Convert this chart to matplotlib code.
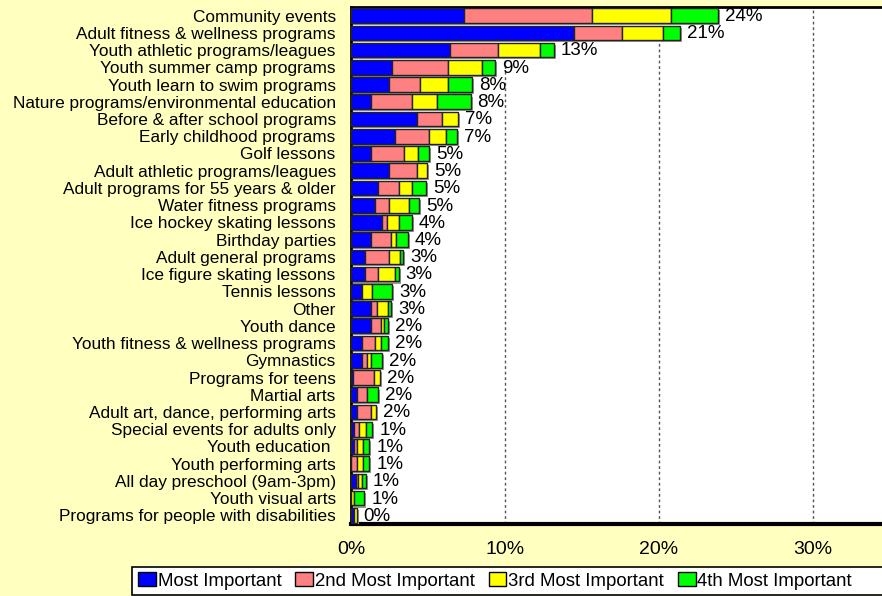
import matplotlib
matplotlib.use("Agg")
import matplotlib.pyplot as plt
import matplotlib.patheffects as pe
from matplotlib.patches import Rectangle

plt.rcParams['font.family'] = ['Liberation Sans', 'DejaVu Sans']

# Data (top to bottom)
categories = [
    "Community events", "Adult fitness & wellness programs",
    "Youth athletic programs/leagues", "Youth summer camp programs",
    "Youth learn to swim programs", "Nature programs/environmental education",
    "Before & after school programs", "Early childhood programs",
    "Golf lessons", "Adult athletic programs/leagues",
    "Adult programs for 55 years & older", "Water fitness programs",
    "Ice hockey skating lessons", "Birthday parties",
    "Adult general programs", "Ice figure skating lessons",
    "Tennis lessons", "Other", "Youth dance",
    "Youth fitness & wellness programs", "Gymnastics",
    "Programs for teens", "Martial arts",
    "Adult art, dance, performing arts", "Special events for adults only",
    "Youth education ", "Youth performing arts",
    "All day preschool (9am-3pm)", "Youth visual arts",
    "Programs for people with disabilities",
]
most = [7.36, 14.48, 6.45, 2.66, 2.47, 1.28, 4.27, 2.88, 1.28, 2.49,
        1.77, 1.56, 1.99, 1.28, 0.91, 0.91, 0.71, 1.28, 1.28, 0.69,
        0.69, 0.15, 0.37, 0.37, 0.19, 0.19, 0.0, 0.30, 0.0, 0.19]
second = [8.31, 3.10, 3.10, 3.62, 1.99, 2.66, 1.62, 2.21, 2.18, 1.78,
          1.33, 0.91, 0.37, 1.30, 1.58, 0.86, 0.0, 0.39, 0.69, 0.85,
          0.37, 1.34, 0.69, 0.91, 0.35, 0.18, 0.37, 0.17, 0.0, 0.0]
third = [5.11, 2.70, 2.72, 2.21, 1.82, 1.62, 1.08, 1.08, 0.91, 0.69,
         0.86, 1.28, 0.74, 0.36, 0.69, 1.11, 0.67, 0.71, 0.19, 0.43,
         0.22, 0.39, 0.0, 0.34, 0.41, 0.39, 0.39, 0.22, 0.19, 0.18]
fourth = [3.07, 1.08, 0.91, 0.88, 1.60, 2.21, 0.0, 0.69, 0.69, 0.0,
          0.91, 0.69, 0.86, 0.74, 0.22, 0.22, 1.30, 0.22, 0.22, 0.41,
          0.71, 0.0, 0.69, 0.0, 0.43, 0.43, 0.43, 0.28, 0.67, 0.0]
pct_labels = ["24%", "21%", "13%", "9%", "8%", "8%", "7%", "7%", "5%", "5%",
              "5%", "5%", "4%", "4%", "3%", "3%", "3%", "3%", "2%", "2%",
              "2%", "2%", "2%", "2%", "1%", "1%", "1%", "1%", "1%", "0%"]
series_names = ["Most Important", "2nd Most Important",
                "3rd Most Important", "4th Most Important"]
colors = ["#0000FF", "#FF8080", "#FFFF00", "#00FF00"]

fig = plt.figure(figsize=(8.82, 5.96), dpi=100)
fig.patch.set_facecolor("#FFFFC0")
ax = fig.add_axes([351 / 882, 1 - 524 / 596, (890 - 351) / 882, 517 / 596])
ax.set_facecolor("white")

n = len(categories)
y = list(range(n))
shadow = [pe.SimplePatchShadow(offset=(1.5, -1.5), shadow_rgbFace="#999999", alpha=1),
          pe.Normal()]
left = [0.0] * n
handles = []
for vals, col, name in zip([most, second, third, fourth], colors, series_names):
    bars = ax.barh(y, vals, left=left, height=0.85, color=col,
                   edgecolor="#222222", linewidth=1, label=name, zorder=3)
    for b, v in zip(bars, vals):
        if v > 0:
            b.set_path_effects(shadow)
        else:
            b.set_visible(False)
    handles.append(bars)
    left = [l + v for l, v in zip(left, vals)]

for yi, tot, lab in zip(y, left, pct_labels):
    ax.text(tot + 0.45, yi + 0.05, lab, va="center", ha="left", fontsize=13.5, zorder=4)

ax.set_xlim(0, 35)
ax.set_ylim(n - 0.5, -0.5)
ax.set_yticks(y)
ax.set_yticklabels(categories, fontsize=12.4)
ax.set_xticks([0, 10, 20, 30])
ax.set_xticklabels(["0%", "10%", "20%", "30%"], fontsize=14)
ax.tick_params(axis="y", length=0, pad=11)
ax.tick_params(axis="x", length=0, pad=12)
for x in [10, 20, 30]:
    ax.axvline(x, color="#555555", linestyle=(0, (2, 2)), linewidth=1, zorder=1)
ax.spines["top"].set_linewidth(2)
ax.spines["left"].set_linewidth(2)
ax.spines["bottom"].set_linewidth(3)
ax.spines["right"].set_visible(False)

# legend box
fig.patches.append(Rectangle((132 / 882, 1 - 595 / 596), 760 / 882, 28 / 596,
                             transform=fig.transFigure, facecolor="white",
                             edgecolor="black", linewidth=1.2, zorder=1))
leg = fig.legend(handles, series_names, loc="center left",
                 bbox_to_anchor=(138 / 882, 1 - 581 / 596), ncol=4,
                 frameon=False, fontsize=13.4, handlelength=0.95,
                 handleheight=0.7, handletextpad=0.1, columnspacing=0.75,
                 borderpad=0, borderaxespad=0)
for h in leg.legend_handles:
    h.set_path_effects([])
    h.set_edgecolor("black")

fig.savefig("out.png", dpi=100, facecolor=fig.get_facecolor())
